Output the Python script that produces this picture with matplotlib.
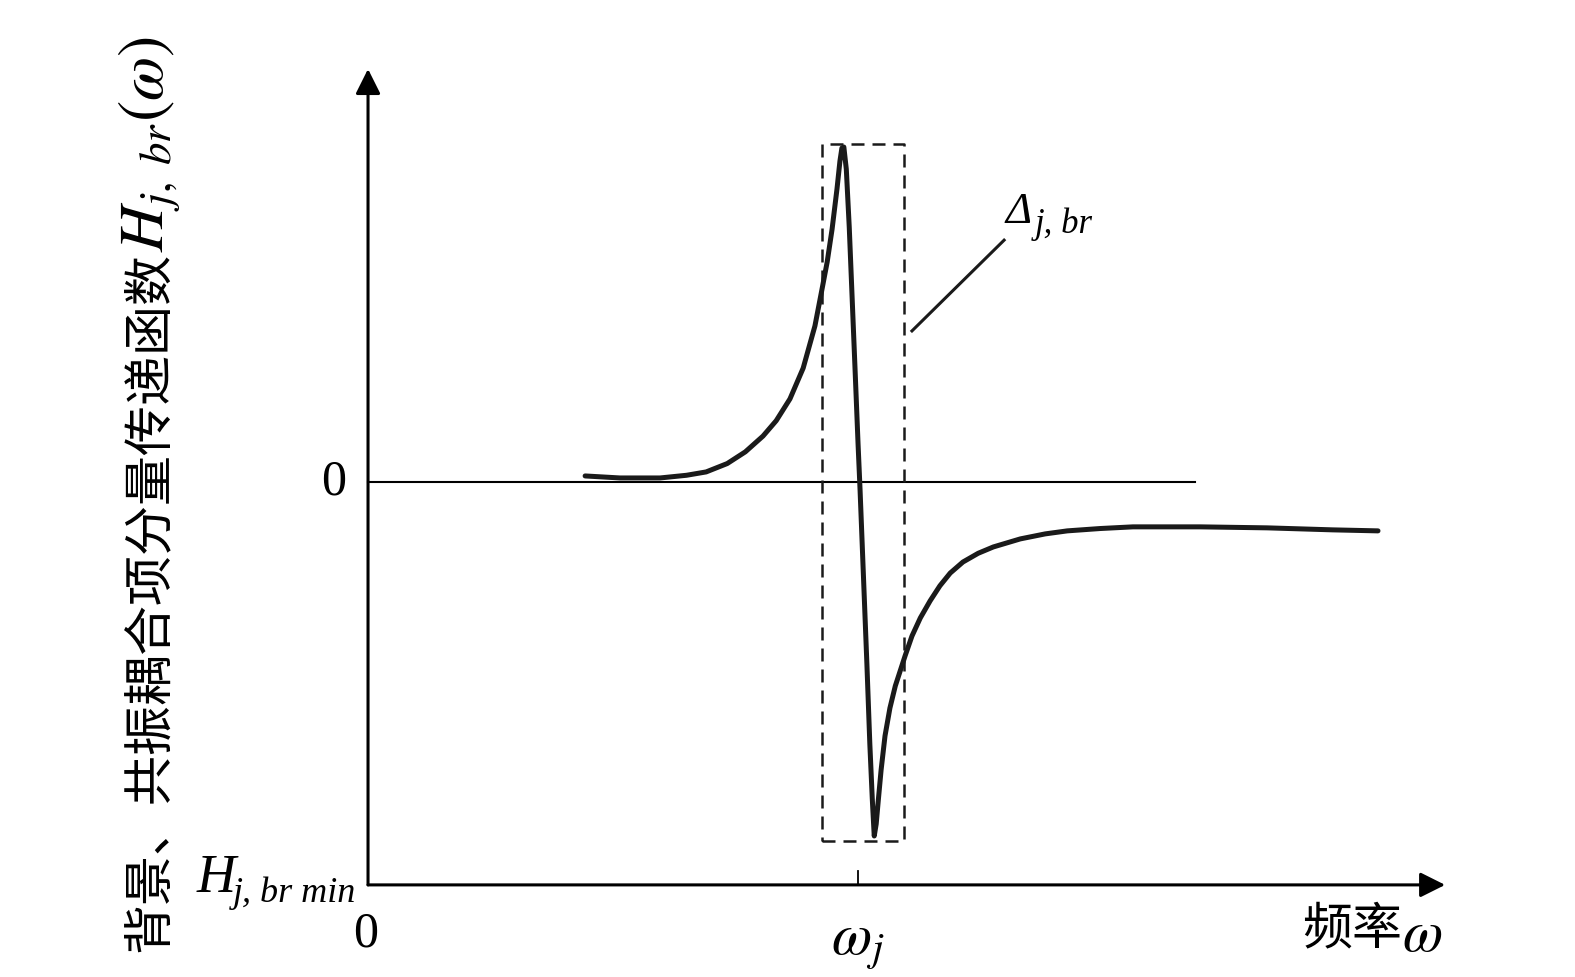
import matplotlib.pyplot as plt

plt.rcParams["font.family"] = ["Noto Sans CJK SC", "DejaVu Sans"]
plt.rcParams["mathtext.fontset"] = "stix"

# curve (frequency in units of omega_j, H scaled to peak = 1)
freq = [0.443, 0.514, 0.596, 0.650, 0.690, 0.733, 0.770, 0.806, 0.833, 0.861,
        0.888, 0.912, 0.927, 0.937, 0.947, 0.957, 0.963, 0.967, 0.971, 0.976,
        0.982, 0.988, 0.994, 1.000, 1.004, 1.008, 1.014, 1.018, 1.024, 1.029,
        1.033, 1.037, 1.041, 1.047, 1.055, 1.065, 1.076, 1.096, 1.110, 1.127,
        1.147, 1.167, 1.188, 1.214, 1.245, 1.276, 1.331, 1.382, 1.427, 1.494,
        1.561, 1.698, 1.835, 1.969, 2.061]
resp = [0.018, 0.012, 0.012, 0.020, 0.030, 0.055, 0.090, 0.137, 0.183, 0.248,
        0.340, 0.466, 0.580, 0.657, 0.755, 0.875, 0.958, 0.997, 1.000, 0.934,
        0.761, 0.546, 0.331, 0.113, -0.021, -0.170, -0.394, -0.543, -0.782, -0.946,
        -1.057, -1.021, -0.955, -0.860, -0.758, -0.675, -0.609, -0.519, -0.460, -0.406,
        -0.355, -0.310, -0.272, -0.239, -0.213, -0.194, -0.170, -0.155, -0.146, -0.139,
        -0.134, -0.134, -0.137, -0.143, -0.146]

omega_j = 1.0
h_min = -1.203
x_end = 2.198
y_top = 1.233
zero_end = 1.688
box_x = [0.927, 1.094]
box_y = [-1.072, 1.009]

fig = plt.figure(figsize=(15.75, 9.78), dpi=100)
ax = fig.add_axes([0, 0, 1, 1])
ax.set_xlim(-0.751, 2.463)
ax.set_ylim(-1.478, 1.442)
ax.axis("off")

ink = "#1a1a1a"
serif = "Liberation Serif"

# axes with arrows
arrow = dict(arrowstyle="-|>", lw=2.2, color="black", mutation_scale=38, shrinkA=0, shrinkB=0)
ax.annotate("", xy=(0, y_top), xytext=(0, h_min), arrowprops=arrow)
ax.annotate("", xy=(x_end, h_min), xytext=(0, h_min), arrowprops=arrow)

# zero line
ax.plot([0, zero_end], [0, 0], color="black", lw=1.5)

# tick at omega_j
ax.plot([omega_j, omega_j], [h_min, h_min + 0.04], color="black", lw=1.3)

# response curve
ax.plot(freq, resp, color=ink, lw=3.6, solid_capstyle="round", solid_joinstyle="round")

# dashed box
ax.plot([box_x[0], box_x[1], box_x[1], box_x[0], box_x[0]],
        [box_y[0], box_y[0], box_y[1], box_y[1], box_y[0]],
        color=ink, lw=1.8, ls=(0, (5.2, 3.2)))

# leader line and label
ax.plot([1.110, 1.298], [0.451, 0.722], color=ink, lw=2.2)
ax.text(1.300, 0.776, "Δ", fontsize=32, style="italic", family=serif, va="baseline", ha="left")
ax.text(1.360, 0.746, "j, br", fontsize=25, style="italic", family=serif, va="baseline", ha="left")

# zeros
ax.text(-0.071, 0.003, "0", fontsize=36, ha="center", va="center", family=serif)
ax.text(-0.004, -1.346, "0", fontsize=36, ha="center", va="center", family=serif)

# x labels
ax.text(omega_j, -1.370, r"$\omega_j$", fontsize=42, ha="center", va="center")
ax.text(2.110, -1.334, "频率", fontsize=36, ha="right", va="center")
ax.text(2.110, -1.349, r"$\omega$", fontsize=42, ha="left", va="center")

# H min label
ax.text(-0.349, -1.221, "H", fontsize=39, style="italic", family=serif, va="baseline", ha="left")
ax.text(-0.2755, -1.251, "j, br min", fontsize=26, style="italic", family=serif,
        va="baseline", ha="left")

# y label
cjk = ax.text(-0.445, -1.40, "背景、共振耦合项分量传递函数", fontsize=36,
              rotation=90, ha="center", va="bottom")
ax.annotate(r"$H_{j,\ br}(\omega)$", xy=(0.5, 1.0), xycoords=cjk, fontsize=46,
            rotation=90, ha="center", va="bottom")

fig.savefig("out.png", dpi=100, facecolor="white")
